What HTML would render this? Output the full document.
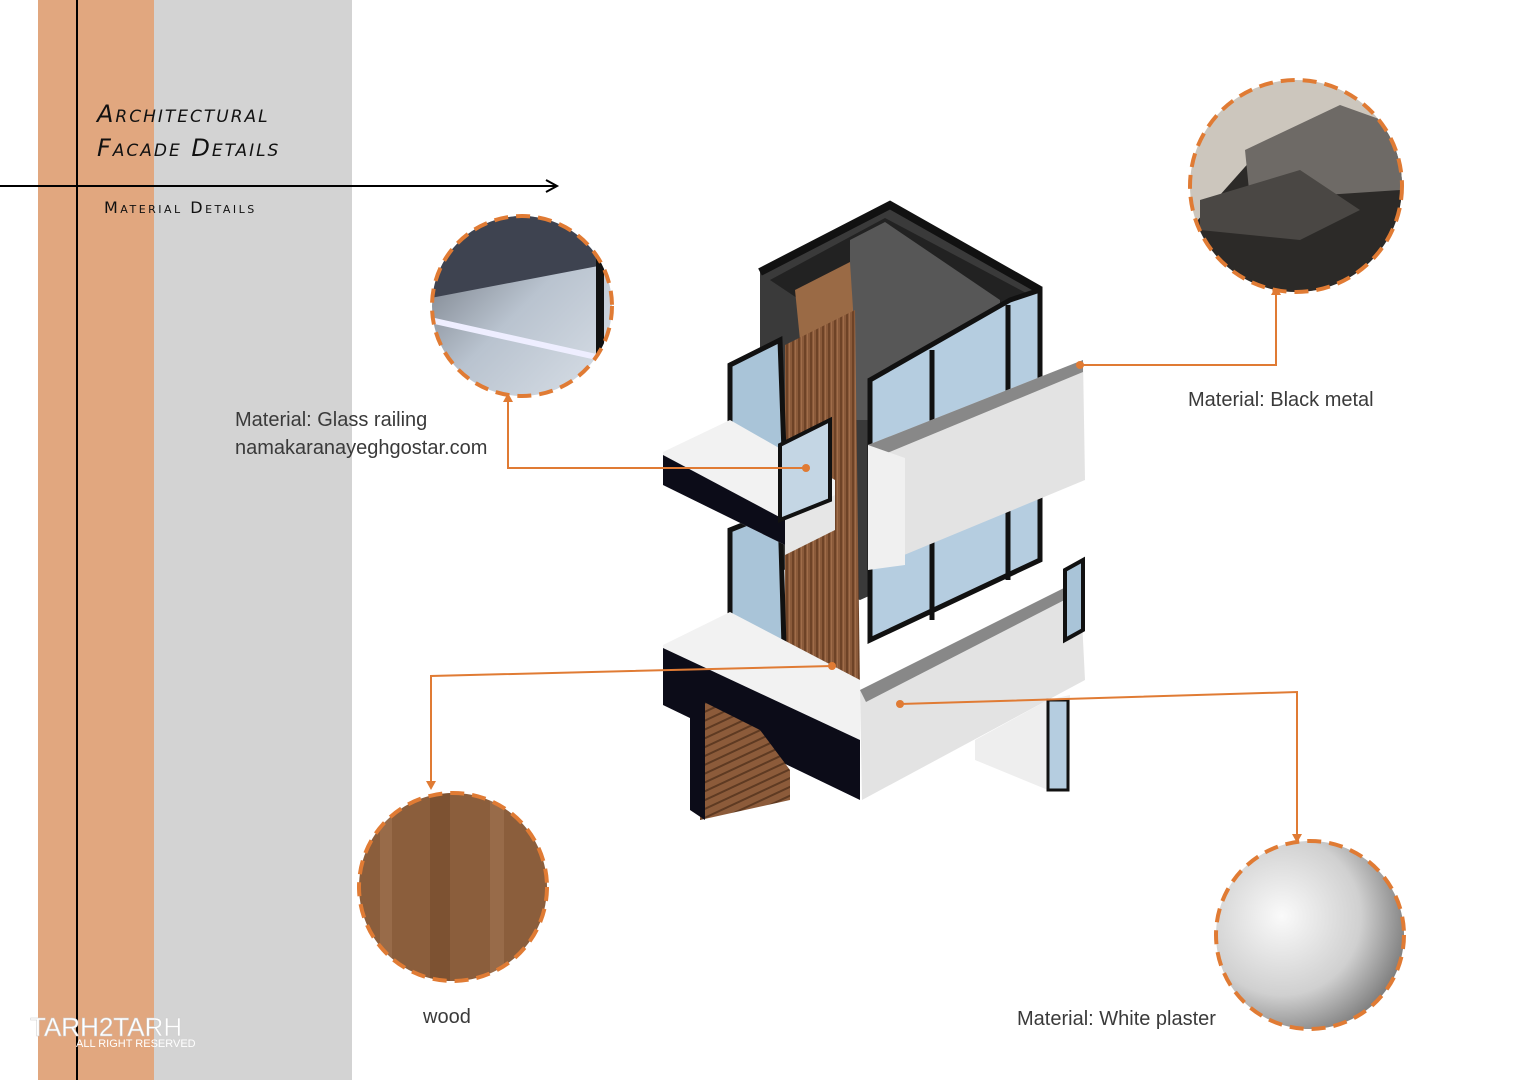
<!DOCTYPE html>
<html><head><meta charset="utf-8"><style>
body{margin:0;width:1523px;height:1080px;overflow:hidden;background:#fff;font-family:"Liberation Sans",sans-serif}
</style></head><body>
<svg width="1523" height="1080" xmlns="http://www.w3.org/2000/svg">
<defs>
<radialGradient id="pl" cx="35%" cy="40%" r="70%"><stop offset="0" stop-color="#fafafa"/><stop offset="0.6" stop-color="#d0d0d0"/><stop offset="1" stop-color="#777"/></radialGradient>
<linearGradient id="gl" x1="0" y1="0" x2="1" y2="1"><stop offset="0" stop-color="#5a5f68"/><stop offset="0.5" stop-color="#b9c3cf"/><stop offset="1" stop-color="#dfe5ec"/></linearGradient>
<pattern id="wd" width="6" height="40" patternUnits="userSpaceOnUse"><rect width="6" height="40" fill="#8a5a3a"/><rect x="0" width="2" height="40" fill="#6e4327"/><rect x="3" width="1" height="40" fill="#a06d4a"/></pattern>
<pattern id="sl" width="20" height="8" patternUnits="userSpaceOnUse" patternTransform="rotate(-25)"><rect width="20" height="8" fill="#8c5b3a"/><rect y="6" width="20" height="2" fill="#5e3a22"/></pattern>
<clipPath id="c1"><circle cx="522" cy="306" r="90"/></clipPath>
<clipPath id="c2"><circle cx="1296" cy="186" r="106"/></clipPath>
<clipPath id="c3"><circle cx="453" cy="887" r="94"/></clipPath>
</defs>
<rect x="38" y="0" width="116" height="1080" fill="#e1a77f"/>
<rect x="154" y="0" width="198" height="1080" fill="#d3d3d3"/>
<line x1="77" y1="0" x2="77" y2="1080" stroke="#000" stroke-width="2"/>
<line x1="0" y1="186" x2="555" y2="186" stroke="#000" stroke-width="2"/>
<path d="M546 180 L557 186 L546 192" fill="none" stroke="#000" stroke-width="2"/>
<text x="97" y="122" font-size="24" font-style="italic" font-variant="small-caps" letter-spacing="2" font-family="DejaVu Sans" fill="#111">Architectural</text>
<text x="97" y="156" font-size="24" font-style="italic" font-variant="small-caps" letter-spacing="2" font-family="DejaVu Sans" fill="#111">Facade Details</text>
<text x="104" y="213" font-size="16" font-variant="small-caps" letter-spacing="2.5" font-family="DejaVu Sans" fill="#111">Material Details</text>

<!-- building -->
<polygon points="760,272 890,205 1040,290 1040,520 860,600 760,560" fill="#3a3a3a"/>
<polygon points="770,280 885,218 1030,295 1000,310 885,250 800,300" fill="#222"/>
<polygon points="850,240 885,222 1000,300 1000,420 850,420" fill="#575757"/>
<polyline points="760,272 890,205 1040,290" fill="none" stroke="#111" stroke-width="8"/>
<polygon points="795,290 850,262 855,340 800,340" fill="#9a6a45"/>
<polygon points="785,345 855,310 860,690 785,720" fill="url(#wd)"/>
<polygon points="730,365 780,340 785,480 730,480" fill="#a9c4d8" stroke="#111" stroke-width="5"/>
<polygon points="730,530 780,510 785,680 730,690" fill="#a9c4d8" stroke="#111" stroke-width="5"/>
<polygon points="870,380 1010,300 1040,290 1040,560 870,640" fill="#b5cde0" stroke="#111" stroke-width="5"/>
<line x1="932" y1="350" x2="932" y2="620" stroke="#111" stroke-width="5"/>
<line x1="1008" y1="305" x2="1008" y2="580" stroke="#111" stroke-width="5"/>
<polygon points="663,452 730,420 835,480 835,520 785,545 663,485" fill="#f2f2f2"/>
<polygon points="663,455 785,520 785,545 663,485" fill="#0c0c18"/>
<polygon points="785,520 835,495 835,530 785,555" fill="#e6e6e6"/>
<polygon points="780,445 830,420 830,500 780,520" fill="#c4d6e4" stroke="#111" stroke-width="4"/>
<polygon points="868,445 1083,360 1085,480 868,570" fill="#e3e3e3"/>
<polygon points="868,445 1083,360 1083,372 875,458" fill="#888"/>
<polygon points="868,445 905,458 905,565 868,570" fill="#f0f0f0"/>
<polygon points="663,645 730,612 860,680 860,800 663,700" fill="#f2f2f2"/>
<polygon points="663,648 860,740 860,800 663,705" fill="#0c0c18"/>
<polygon points="700,700 760,730 790,770 790,800 700,820" fill="url(#sl)"/>
<polygon points="690,700 705,700 705,820 690,810" fill="#0c0c18"/>
<polygon points="860,690 1080,580 1085,680 862,800" fill="#e3e3e3"/>
<polygon points="860,690 1080,580 1080,592 866,702" fill="#888"/>
<polygon points="1065,570 1083,560 1083,630 1065,640" fill="#a9c4d8" stroke="#111" stroke-width="4"/>
<polygon points="975,740 1048,700 1070,695 1070,770 1048,790 975,760" fill="#eee"/>
<rect x="1048" y="700" width="20" height="90" fill="#b5cde0" stroke="#111" stroke-width="3"/>

<!-- connectors -->
<g stroke="#e07b34" stroke-width="2" fill="none">
<polyline points="508,400 508,468 806,468"/>
<polyline points="1080,365 1276,365 1276,292"/>
<polyline points="832,666 431,676 431,785"/>
<polyline points="900,704 1297,692 1297,838"/>
</g>
<g fill="#e07b34"><circle cx="806" cy="468" r="4"/><circle cx="1080" cy="365" r="4"/><circle cx="832" cy="666" r="4"/><circle cx="900" cy="704" r="4"/>
<path d="M503 402 L508 393 L513 402Z"/><path d="M1271 295 L1276 286 L1281 295Z"/><path d="M426 781 L431 790 L436 781Z"/><path d="M1292 834 L1297 843 L1302 834Z"/></g>

<!-- circles -->
<g clip-path="url(#c1)"><rect x="420" y="200" width="210" height="210" fill="url(#gl)"/><polygon points="420,200 630,200 630,260 420,300" fill="#3e4350"/><line x1="430" y1="320" x2="610" y2="360" stroke="#eef" stroke-width="6"/><line x1="600" y1="240" x2="600" y2="400" stroke="#111" stroke-width="8"/></g>
<circle cx="522" cy="306" r="90" fill="none" stroke="#e07b34" stroke-width="4" stroke-dasharray="14 8"/>
<g clip-path="url(#c2)"><rect x="1180" y="70" width="230" height="230" fill="#ccc6bd"/><polygon points="1180,240 1260,150 1410,130 1410,300 1180,300" fill="#2c2a28"/><polygon points="1245,150 1340,105 1410,130 1400,190 1250,200" fill="#6e6a66"/><polygon points="1200,200 1300,170 1360,210 1300,240 1200,230" fill="#4a4744"/></g>
<circle cx="1296" cy="186" r="106" fill="none" stroke="#e07b34" stroke-width="4" stroke-dasharray="14 8"/>
<g clip-path="url(#c3)"><rect x="350" y="790" width="210" height="200" fill="#8b5e3c"/><rect x="380" y="790" width="12" height="200" fill="#a27452" opacity=".6"/><rect x="430" y="790" width="20" height="200" fill="#6f4527" opacity=".5"/><rect x="490" y="790" width="14" height="200" fill="#a27452" opacity=".6"/></g>
<circle cx="453" cy="887" r="94" fill="none" stroke="#e07b34" stroke-width="4" stroke-dasharray="14 8"/>
<circle cx="1310" cy="935" r="94" fill="url(#pl)" stroke="#e07b34" stroke-width="4" stroke-dasharray="14 8"/>

<g font-family="Liberation Sans, sans-serif" font-size="20" fill="#3a3a3a">
<text x="235" y="426">Material: Glass railing</text>
<text x="235" y="454">namakaranayeghgostar.com</text>
<text x="1188" y="406">Material: Black metal</text>
<text x="423" y="1023">wood</text>
<text x="1017" y="1025">Material: White plaster</text>
</g>
<text x="30" y="1036" font-size="26" fill="#fff" stroke="#ccc" stroke-width="0.5" font-family="Liberation Sans">TARH2TARH</text>
<text x="76" y="1047" font-size="11" fill="#fff" font-family="Liberation Sans">ALL RIGHT RESERVED</text>
</svg>
</body></html>
